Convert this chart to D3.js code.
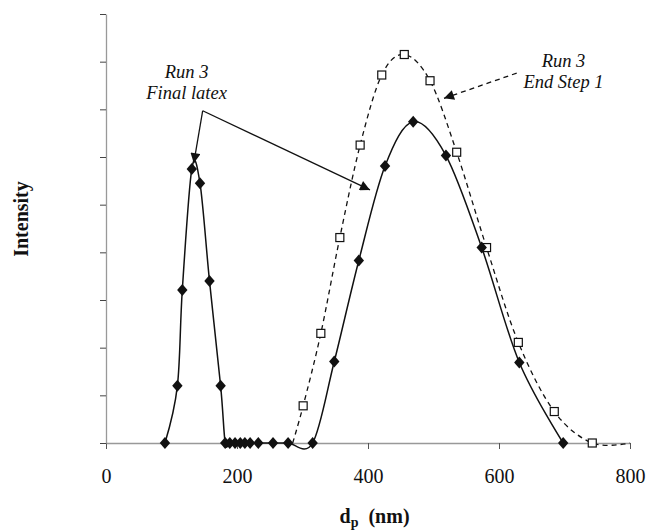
<!DOCTYPE html>
<html>
<head>
    <title>Intensity vs dp</title>
    <script src="https://d3js.org/d3.v7.min.js"></script>
    <style>
        body { margin: 0; background: #fff; }
        text { font-family: "Liberation Serif", "Times New Roman", serif; }
    </style>
</head>
<body>
<script type="text/javascript">
    // Run 3, final latex (solid line, filled diamonds)
    const finalDp = [90, 109, 116.5, 131, 143.5, 158, 175, 182, 189, 197, 205, 212, 220, 232.5, 255, 278,
        315.5, 348.5, 386, 426, 469, 519, 573.6, 631, 698];
    const finalI = [0, 1.20, 3.21, 5.75, 5.45, 3.40, 1.20, 0, 0, 0, 0, 0, 0, 0, 0, 0,
        0, 1.71, 3.83, 5.81, 6.74, 6.03, 4.10, 1.69, 0];

    // Run 3, end of step 1 (dashed line, open squares)
    const stepDp = [285, 301, 328, 357, 388, 421, 455.4, 494.7, 535.4, 581, 629.5, 684.4, 742.4, 800];
    const stepI = [0, 0.78, 2.30, 4.31, 6.25, 7.72, 8.15, 7.60, 6.10, 4.10, 2.11, 0.66, 0, 0];

    const xTicks = [0, 200, 400, 600, 800];

    const w = 649;
    const h = 531;

    const svg = d3.select('body').append('svg').attr('width', w).attr('height', h);

    const xScale = d3.scaleLinear().domain([0, 800]).range([106, 630]);
    const yScale = d3.scaleLinear().domain([0, 9]).range([443, 14]);

    const finalData = finalDp.map((d, i) => ({x: d, y: finalI[i]}));
    const stepData = stepDp.map((d, i) => ({x: d, y: stepI[i]}));

    // axes
    const xAxis = svg.append('g')
        .attr('transform', 'translate(0,' + yScale(0) + ')')
        .call(d3.axisBottom(xScale).tickValues(xTicks).tickSize(6).tickSizeOuter(0).tickPadding(20));
    xAxis.select('.domain').attr('stroke', '#999').attr('stroke-width', 1.3);
    xAxis.selectAll('.tick line').attr('stroke', '#555');
    xAxis.selectAll('.tick text').attr('font-size', '20px').attr('fill', '#111')
        .style('font-family', '"Liberation Serif", serif');

    const yAxis = svg.append('g')
        .attr('transform', 'translate(' + xScale(0) + ',0)')
        .call(d3.axisLeft(yScale).ticks(9).tickSize(6).tickSizeOuter(0).tickFormat(''));
    yAxis.select('.domain').attr('stroke', '#999').attr('stroke-width', 1.3);
    yAxis.selectAll('.tick line').attr('stroke', '#444');

    const line = d3.line()
        .x(d => xScale(d.x))
        .y(d => yScale(d.y))
        .curve(d3.curveCatmullRom.alpha(0));

    svg.append('path')
        .datum(stepData)
        .attr('d', line)
        .attr('fill', 'none')
        .attr('stroke', '#111')
        .attr('stroke-width', 1.3)
        .attr('stroke-dasharray', '5,4');

    svg.append('path')
        .datum(finalData)
        .attr('d', line)
        .attr('fill', 'none')
        .attr('stroke', '#111')
        .attr('stroke-width', 1.5);

    // open squares (first and last point have no marker)
    svg.selectAll('rect.sq')
        .data(stepData.filter((d, i) => i > 0 && i < stepData.length - 1))
        .enter()
        .append('rect')
        .attr('class', 'sq')
        .attr('x', d => xScale(d.x) - 4)
        .attr('y', d => yScale(d.y) - 4)
        .attr('width', 8)
        .attr('height', 8)
        .attr('fill', '#fff')
        .attr('stroke', '#111')
        .attr('stroke-width', 1.2);

    // diamonds, slightly taller than wide
    svg.selectAll('path.dia')
        .data(finalData)
        .enter()
        .append('path')
        .attr('class', 'dia')
        .attr('d', 'M0,-6L5.2,0L0,6L-5.2,0Z')
        .attr('transform', d => 'translate(' + xScale(d.x) + ',' + yScale(d.y) + ')')
        .attr('fill', '#111');

    // arrowheads
    const defs = svg.append('defs');
    defs.append('marker')
        .attr('id', 'arrow')
        .attr('viewBox', '0 0 10 10')
        .attr('refX', 10)
        .attr('refY', 5)
        .attr('markerWidth', 13)
        .attr('markerHeight', 10)
        .attr('markerUnits', 'userSpaceOnUse')
        .attr('orient', 'auto')
        .append('path')
        .attr('d', 'M0,0L10,5L0,10Z')
        .attr('fill', '#111');

    // annotations in data units
    const finalFrom = {x: 147.6, y: 6.97};
    const finalTips = [{x: 134, y: 5.87}, {x: 403, y: 5.31}];
    const stepFrom = {x: 627, y: 7.76};
    const stepTip = {x: 516, y: 7.23};

    finalTips.forEach(t => {
        svg.append('line')
            .attr('x1', xScale(finalFrom.x)).attr('y1', yScale(finalFrom.y))
            .attr('x2', xScale(t.x)).attr('y2', yScale(t.y))
            .attr('stroke', '#111')
            .attr('stroke-width', 1.3)
            .attr('marker-end', 'url(#arrow)');
    });

    svg.append('line')
        .attr('x1', xScale(stepFrom.x)).attr('y1', yScale(stepFrom.y))
        .attr('x2', xScale(stepTip.x)).attr('y2', yScale(stepTip.y))
        .attr('stroke', '#111')
        .attr('stroke-width', 1.3)
        .attr('stroke-dasharray', '5,4')
        .attr('marker-end', 'url(#arrow)');

    const notes = [
        {x: 123, y: 7.66, t: 'Run 3'},
        {x: 123, y: 7.22, t: 'Final latex'},
        {x: 698.5, y: 7.89, t: 'Run 3'},
        {x: 698.5, y: 7.44, t: 'End Step 1'}
    ];
    svg.selectAll('text.note')
        .data(notes)
        .enter()
        .append('text')
        .attr('class', 'note')
        .attr('x', d => xScale(d.x))
        .attr('y', d => yScale(d.y))
        .attr('text-anchor', 'middle')
        .attr('font-style', 'italic')
        .attr('font-size', '18.5px')
        .attr('fill', '#111')
        .text(d => d.t);

    // axis titles
    const xt = svg.append('text')
        .attr('x', xScale(410))
        .attr('y', 523)
        .attr('text-anchor', 'middle')
        .attr('font-weight', 'bold')
        .attr('font-size', '20px')
        .attr('fill', '#111');
    xt.append('tspan').text('d');
    xt.append('tspan').attr('font-size', '14px').attr('dy', 4).text('p');
    xt.append('tspan').attr('dy', -4).text('\u00a0\u00a0(nm)');

    svg.append('text')
        .attr('transform', 'translate(28,219) rotate(-90)')
        .attr('text-anchor', 'middle')
        .attr('font-weight', 'bold')
        .attr('font-size', '20px')
        .attr('fill', '#111')
        .text('Intensity');
</script>
</body>
</html>
